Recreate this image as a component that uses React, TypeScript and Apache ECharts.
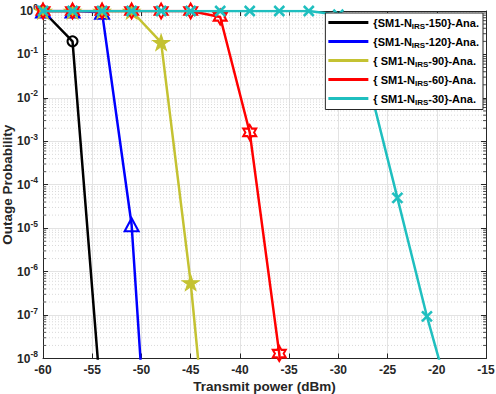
import React, { useEffect, useRef } from 'react';
import * as echarts from 'echarts';

// ---- data ----
const xPower = [-60, -57, -54, -51, -48, -45, -42, -39, -36, -33, -30, -27, -24, -21, -18];
const pN150 = [1, 0.2, 5.5e-10];
const pN120 = [1, 1, 0.93, 1.2e-5, 6e-16];
const pN90 = [1, 1, 1, 1, 0.19, 5.6e-7, 5.6e-14];
const pN60 = [1, 1, 1, 1, 1, 1, 0.73, 1.6e-3, 1.3e-8, 1e-16];
const pN30 = [1, 1, 1, 1, 1, 1, 1, 1, 1, 1, 0.82, 0.026, 5e-5, 9.3e-8, 3.5e-10];
const seriesNames = [
  '{SM1-N_IRS-150}-Ana.',
  '{SM1-N_IRS-120}-Ana.',
  '{ SM1-N_IRS-90}-Ana.',
  '{ SM1-N_IRS-60}-Ana.',
  '{ SM1-N_IRS-30}-Ana.',
];
const xMin = -60;
const xMax = -15;
const xStep = 5;
const yMin = 1e-8;
const yMax = 1;

const FONT = '"Liberation Sans", Arial, Helvetica, sans-serif';
const AX = '#262626';
const colors = ['#000000', '#0000ff', '#c4c232', '#ff0000', '#1fbfbf'];

function starPath(points: number, inner: number): string {
  const pts: string[] = [];
  for (let i = 0; i < points * 2; i++) {
    const r = i % 2 === 0 ? 1 : inner;
    const a = -Math.PI / 2 + (i * Math.PI) / points;
    pts.push((r * Math.cos(a)).toFixed(4) + ',' + (r * Math.sin(a)).toFixed(4));
  }
  return 'path://M' + pts.join('L') + 'Z';
}
const pentagram = starPath(5, 0.382);
const hexagram = starPath(6, 0.577);
const crossSym = 'path://M0,0L10,10M10,0L0,10';

const minorVals: number[] = [];
for (let e = -8; e < 0; e++) for (let k = 2; k <= 9; k++) minorVals.push(k * Math.pow(10, e));

function pairs(vals: number[]) {
  return vals.map((v, i) => [xPower[i], v]);
}

export default function App() {
  const ref = useRef<HTMLDivElement>(null);
  useEffect(() => {
    if (!ref.current) return;
    const chart = echarts.init(ref.current, undefined, { renderer: 'svg' });
    const lineW = 2.5;
    const option: any = {
      animation: false,
      backgroundColor: '#fff',
      grid: { left: 43, right: 10, top: 11, bottom: 35.5, containLabel: false, outerBoundsMode: 'none' },
      legend: {
        orient: 'vertical',
        right: 13,
        top: 13,
        backgroundColor: '#fff',
        borderColor: AX,
        borderWidth: 1,
        borderRadius: 0,
        padding: [4, 4, 3, 3],
        itemGap: 5.5,
        itemWidth: 40,
        itemHeight: 3,
        icon: 'rect',
        selectedMode: false,
        z: 20,
        data: seriesNames.map((n, i) => ({ name: n, itemStyle: { color: colors[i], borderWidth: 0 } })),
        formatter: (name: string) => name.replace('_IRS', '{s|IRS}'),
        textStyle: {
          fontFamily: FONT,
          fontSize: 11,
          fontWeight: 'bold',
          color: '#000',
          rich: {
            s: { fontFamily: FONT, fontSize: 8, fontWeight: 'bold', color: '#000', padding: [8, 0, 0, 0] },
          },
        },
      },
      xAxis: [
        {
          type: 'value',
          min: xMin,
          max: xMax,
          interval: xStep,
          name: 'Transmit power (dBm)',
          nameLocation: 'middle',
          nameGap: 21,
          nameMoveOverlap: false,
          nameTextStyle: { fontFamily: FONT, fontSize: 13.5, fontWeight: 'bold', color: AX },
          axisLine: { show: true, lineStyle: { color: AX, width: 1 } },
          axisTick: { show: true, inside: true, length: 5, lineStyle: { color: AX } },
          axisLabel: { fontFamily: FONT, fontSize: 12, fontWeight: 'bold', color: AX, margin: 5 },
          splitLine: { show: true, lineStyle: { color: '#e3e3e3', width: 1 } },
        },
        {
          type: 'value',
          position: 'top',
          min: xMin,
          max: xMax,
          interval: xStep,
          axisLine: { show: true, lineStyle: { color: AX, width: 1 } },
          axisTick: { show: true, inside: true, length: 5, lineStyle: { color: AX } },
          axisLabel: { show: false },
          splitLine: { show: false },
        },
      ],
      yAxis: [
        {
          type: 'log',
          logBase: 10,
          min: yMin,
          max: yMax,
          interval: 1,
          name: 'Outage Probability',
          nameLocation: 'middle',
          nameGap: 29,
          nameMoveOverlap: false,
          nameTextStyle: { fontFamily: FONT, fontSize: 13.5, fontWeight: 'bold', color: AX },
          axisLine: { show: true, lineStyle: { color: AX, width: 1 } },
          axisTick: { show: true, inside: true, length: 5, lineStyle: { color: AX } },
          minorTick: { show: false },
          axisLabel: {
            fontFamily: FONT,
            fontSize: 12,
            fontWeight: 'bold',
            color: AX,
            margin: 5,
            formatter: (v: number) => '10{sup|' + Math.round(Math.log10(v)) + '}',
            rich: {
              sup: { fontFamily: FONT, fontSize: 8.5, fontWeight: 'bold', color: AX, padding: [0, 0, 9, 0] },
            },
          },
          splitLine: { show: true, lineStyle: { color: '#e3e3e3', width: 1 } },
        },
        {
          type: 'log',
          logBase: 10,
          position: 'right',
          min: yMin,
          max: yMax,
          interval: 1,
          axisLine: { show: true, lineStyle: { color: AX, width: 1 } },
          axisTick: { show: true, inside: true, length: 5, lineStyle: { color: AX } },
          axisLabel: { show: false },
          splitLine: { show: false },
        },
      ],
      series: [
        {
          type: 'custom',
          name: 'minor',
          silent: true,
          z: 1,
          xAxisIndex: 0,
          yAxisIndex: 0,
          data: minorVals.map((v) => [xMin, v]),
          renderItem: (params: any, api: any) => {
            const v = api.value(1);
            const p0 = api.coord([xMin, v]);
            const p1 = api.coord([xMax, v]);
            return {
              type: 'group',
              children: [
                {
                  type: 'line',
                  shape: { x1: p0[0], y1: p0[1], x2: p1[0], y2: p1[1] },
                  style: { stroke: '#cfcfcf', lineWidth: 0.8, lineDash: [1, 2] },
                },
                {
                  type: 'line',
                  shape: { x1: p0[0], y1: p0[1], x2: p0[0] + 3, y2: p0[1] },
                  style: { stroke: AX, lineWidth: 0.8 },
                },
                {
                  type: 'line',
                  shape: { x1: p1[0] - 3, y1: p1[1], x2: p1[0], y2: p1[1] },
                  style: { stroke: AX, lineWidth: 0.8 },
                },
              ],
            };
          },
        },
        {
          type: 'line',
          name: seriesNames[0],
          data: pairs(pN150),
          symbol: 'circle',
          symbolSize: 10,
          lineStyle: { color: colors[0], width: lineW },
          itemStyle: { color: 'none', borderColor: colors[0], borderWidth: 2 },
          z: 3,
        },
        {
          type: 'line',
          name: seriesNames[1],
          data: pairs(pN120),
          symbol: 'triangle',
          symbolSize: [14, 13],
          lineStyle: { color: colors[1], width: lineW },
          itemStyle: { color: 'none', borderColor: colors[1], borderWidth: 2 },
          z: 4,
        },
        {
          type: 'line',
          name: seriesNames[2],
          data: pairs(pN90),
          symbol: pentagram,
          symbolSize: [17, 16],
          lineStyle: { color: colors[2], width: lineW },
          itemStyle: { color: colors[2], borderColor: colors[2], borderWidth: 1 },
          z: 5,
        },
        {
          type: 'line',
          name: seriesNames[3],
          data: pairs(pN60),
          symbol: hexagram,
          symbolSize: [13, 15],
          lineStyle: { color: colors[3], width: lineW },
          itemStyle: { color: 'none', borderColor: colors[3], borderWidth: 2 },
          z: 6,
        },
        {
          type: 'line',
          name: seriesNames[4],
          data: pairs(pN30),
          symbol: crossSym,
          symbolSize: 10,
          lineStyle: { color: colors[4], width: lineW },
          itemStyle: { color: 'none', borderColor: colors[4], borderWidth: 2.5 },
          z: 7,
        },
      ],
    };
    chart.setOption(option);
    return () => chart.dispose();
  }, []);
  return (
    <div
      ref={ref}
      style={{ position: 'fixed', left: 0, top: 0, width: 496, height: 394, background: '#fff' }}
    />
  );
}
